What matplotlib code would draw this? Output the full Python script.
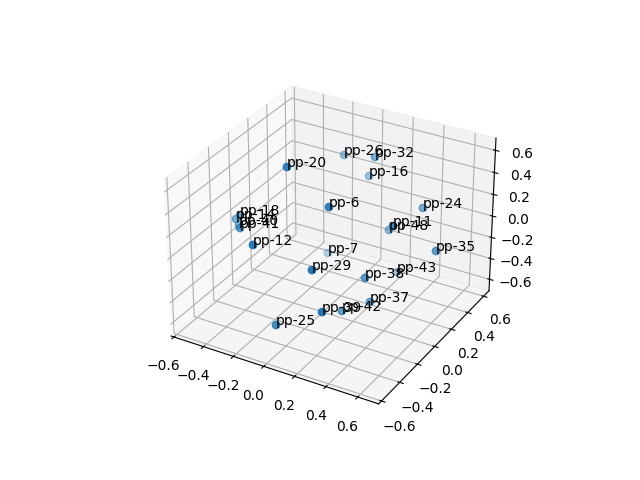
import matplotlib
matplotlib.use("Agg")
import matplotlib.pyplot as plt

names = ["pp-26", "pp-32", "pp-16", "pp-20", "pp-6", "pp-24", "pp-11", "pp-48", "pp-35", "pp-12", "pp-7",
         "pp-29", "pp-38", "pp-43", "pp-37", "pp-39", "pp-42", "pp-25", "pp-18", "pp-14", "pp-40", "pp-41"]
xs = [-0.129, 0.109, 0.016, -0.112, 0.159, 0.42, 0.438, 0.236, 0.616, -0.131, -0.145,
      0.191, 0.321, 0.279, 0.331, 0.313, 0.23, 0.018, -0.49, -0.502, -0.476, -0.377]
ys = [0.451, 0.393, 0.49, -0.189, -0.196, 0.402, 0.022, 0.341, 0.201, -0.512, 0.296,
      -0.428, -0.077, 0.367, -0.037, -0.525, -0.175, -0.526, -0.098, -0.122, -0.132, -0.269]
zs = [0.388, 0.495, 0.221, 0.712, 0.469, 0.142, 0.256, -0.091, -0.029, 0.245, -0.431,
      0.093, -0.191, -0.49, -0.44, -0.156, -0.46, -0.404, 0.074, 0.049, 0.011, 0.121]

fig = plt.figure()
ax = fig.add_subplot(projection="3d")
ax.scatter(xs, ys, zs, s=28)
for name, x, y, z in zip(names, xs, ys, zs):
    ax.text(x, y, z, name)

ax.set_xlim(-0.62, 0.73)
ax.set_ylim(-0.63, 0.67)
ax.set_zlim(-0.71, 0.71)

fig.savefig("out.png", dpi=100)
